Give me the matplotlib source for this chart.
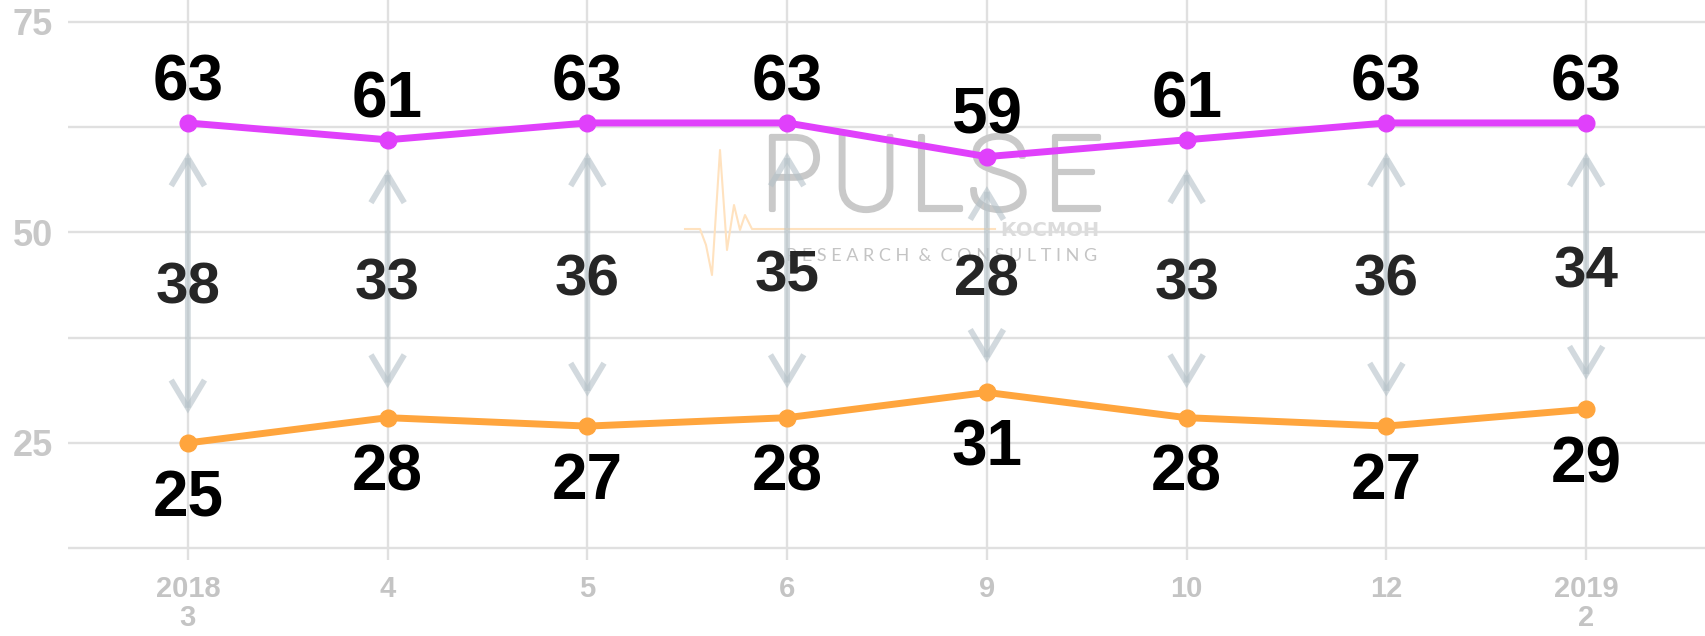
import matplotlib
matplotlib.use("Agg")
import matplotlib.pyplot as plt
from matplotlib.patches import FancyArrowPatch
from matplotlib.lines import Line2D
import matplotlib.patheffects as pe
import numpy as np

# ---- data ----
categories = ["2018\n3", "4", "5", "6", "9", "10", "12", "2019\n2"]
upper = [63, 61, 63, 63, 59, 61, 63, 63]
lower = [25, 28, 27, 28, 31, 28, 27, 29]
yticks = [25, 50, 75]

plt.rcParams['font.family'] = ['Liberation Sans', 'DejaVu Sans']

W, H = 1706, 636
fig = plt.figure(figsize=(W / 100, H / 100), dpi=100)
ax = fig.add_axes([68 / W, (H - 560) / H, (W - 68) / W, 560 / H])

x = np.arange(len(categories))
ax.set_xlim(-0.6, len(categories) - 1 + 0.6)
ax.set_ylim(11.1, 77.6)

grid_c = '#e0e0e0'
ax.set_yticks(yticks)
ax.set_yticks([12.5, 37.5, 62.5], minor=True)
ax.set_xticks(x)
ax.set_xticklabels(categories, linespacing=1.05)
ax.grid(True, which='both', axis='y', color=grid_c, lw=1.7, zorder=0)
ax.grid(True, which='major', axis='x', color=grid_c, lw=1.7, zorder=0)
for s in ax.spines.values():
    s.set_visible(False)
ax.tick_params(axis='both', which='both', length=0)
ax.tick_params(axis='x', pad=11, labelsize=21, labelcolor='#c4c4c4')
ax.tick_params(axis='y', pad=11, labelsize=26, labelcolor='#c8c8c8')
for lab in ax.get_xticklabels() + ax.get_yticklabels():
    lab.set_fontweight('bold')

# arrows between series
for xi, u, l in zip(x, upper, lower):
    arr = FancyArrowPatch((xi, l + 3.5), (xi, u - 3.5),
                          arrowstyle='<->,head_length=1.0,head_width=0.6',
                          mutation_scale=20, color='#b4c1c8', alpha=0.6,
                          lw=4.2, shrinkA=0, shrinkB=0, zorder=4,
                          joinstyle='miter', capstyle='butt')
    ax.add_patch(arr)
    ax.text(xi, (u + l) / 2 - 2.5, f"{u - l}", ha='center', va='baseline',
            fontsize=42, fontweight='bold', color='#262626', zorder=6)

# lines
ax.plot(x, upper, color='#E040FB', lw=5, marker='o', ms=12, zorder=4,
        solid_capstyle='round')
ax.plot(x, lower, color='#FFA53D', lw=5, marker='o', ms=12, zorder=4,
        solid_capstyle='round')

for xi, u in zip(x, upper):
    ax.text(xi, u + 2.7, f"{u}", ha='center', va='baseline', fontsize=46,
            fontweight='bold', color='black', zorder=6)
for xi, l in zip(x, lower):
    ax.text(xi, l - 8.7, f"{l}", ha='center', va='baseline', fontsize=46,
            fontweight='bold', color='black', zorder=6)

# ---- watermark (decoration, in figure pixel coordinates) ----
def fpx(px, py):
    return px / W, (H - py) / H

wm_c = '#c9c9c9'
wm_letters = "PULSE"
wm_x = [792, 866, 937, 998, 1073]
for ch, px in zip(wm_letters, wm_x):
    tx, ty = fpx(px, 210)
    ax.text(tx, ty, ch, ha='center', va='baseline', fontsize=75,
            family=['Roboto', 'DejaVu Sans'], fontweight='light',
            color=wm_c, transform=fig.transFigure, zorder=3,
            path_effects=[pe.withStroke(linewidth=3.0, foreground=wm_c)])
rx, ry = fpx(942, 256)
ax.text(rx, ry, "R E S E A R C H  &  C O N S U L T I N G", ha='center',
        va='center', fontsize=13, family=['Lato', 'DejaVu Sans'],
        color='#c4c4c4', transform=fig.transFigure, zorder=3)
kx, ky = fpx(1050, 230)
ax.text(kx, ky, "КОСМОН", ha='center', va='center', fontsize=14,
        fontweight='bold', family=['DejaVu Sans'],
        color='#dcdcdc', transform=fig.transFigure, zorder=3)
hb_px = [(685, 229), (700, 229), (706, 245), (712, 275), (720, 150),
         (727, 250), (734, 205), (740, 230), (745, 215), (752, 229), (995, 229)]
hb = [fpx(a, b) for a, b in hb_px]
ax.add_artist(Line2D([p[0] for p in hb], [p[1] for p in hb],
                     transform=fig.transFigure, color='#ffe2bf', lw=1.5,
                     zorder=3))

fig.savefig("out.png", dpi=100, facecolor='white')
